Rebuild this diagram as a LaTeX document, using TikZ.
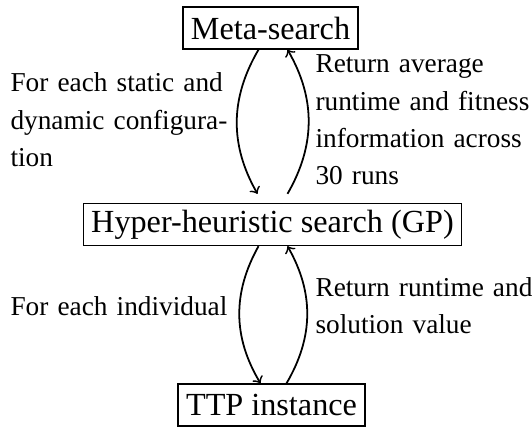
\documentclass[tikz,border=0pt]{standalone}
\usepackage{fontspec}
\setmainfont{Liberation Serif}
\usetikzlibrary{calc}
\begin{document}
\begin{tikzpicture}[x=0.3663pt,y=-0.3663pt,
  box/.style={draw,line width=0.5pt,inner xsep=2.9pt,inner ysep=0pt,minimum height=15.38pt,
    font=\fontsize{11.8pt}{14pt}\selectfont},
  lbl/.style={inner sep=0pt,font=\fontsize{10pt}{13.66pt}\selectfont},
  link/.style={->,line width=0.65pt}]
\useasboundingbox (0,0) rectangle (532,426);
\node[box] (meta) at (270.5,28) {Meta-search};
\node[box] (hyper) at (272.5,224.5) {Hyper-heuristic search (GP)};
\node[box] (ttp) at (271.5,405) {TTP instance};
\draw[link] ($(meta.south)+(-12,0)$) to[bend right=30] ($(hyper.north)+(-15,-9)$);
\draw[link] ($(hyper.north)+(15,-9)$) to[bend right=30] ($(meta.south)+(17,0)$);
\draw[link] ($(hyper.south)+(-14,0)$) to[bend right=30] ($(ttp.north)+(-11,0)$);
\draw[link] ($(ttp.north)+(15,0)$) to[bend right=30] ($(hyper.south)+(15,0)$);
\node[lbl,text width=80.6pt,align=left,anchor=base west] (l1) at (10,92)
  {\makebox[80.6pt][s]{For each static and}\\\makebox[80.6pt][s]{dynamic configura-}\\tion};
\node[lbl,text width=80pt,align=left,anchor=base west] (l2) at (315,73)
  {Return average\\runtime and fitness\\information across\\30 runs};
\node[lbl,text width=80.6pt,align=left,anchor=base west] (l3) at (10,315)
  {\makebox[80.6pt][s]{For each individual}};
\node[lbl,text width=80pt,align=left,anchor=base west] (l4) at (315,296)
  {Return runtime and\\solution value};
\end{tikzpicture}
\end{document}
